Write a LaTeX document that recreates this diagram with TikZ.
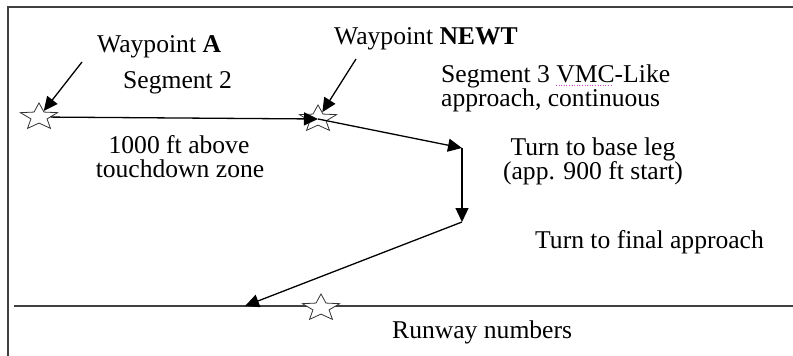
\documentclass[tikz,border=0pt]{standalone}
\usepackage{fontspec}
\setmainfont{Liberation Serif}
\usetikzlibrary{arrows.meta,shapes.geometric}
\definecolor{frameline}{RGB}{64,64,64}
\definecolor{spellmark}{RGB}{215,70,215}

\begin{document}
\begin{tikzpicture}[x=1pt,y=-1pt,
  every node/.style={font=\fontsize{25.6}{24}\selectfont,inner sep=0pt},
  wpt/.style={star,star points=5,star point ratio=2.3,minimum size=39pt,
    draw=black!80,fill=white,line width=0.8pt,xscale=1.0,yscale=0.72},
  route/.style={line width=1.3pt,-{Triangle[length=14pt,width=13pt]}},
  lbl/.style={anchor=base west}]
  \useasboundingbox (0,0) rectangle (793,356);
  % frame and runway
  \draw[frameline,line width=2pt] (8,356) -- (8,7) -- (793,7);
  \draw[frameline,line width=1.5pt] (14,306) -- (793,306);
  % waypoints
  \node[wpt] (wA) at (39,117) {};
  \node[wpt] (wN) at (318,119) {};
  \node[wpt] (wR) at (321,308) {};
  \coordinate (baseturn) at (462,148);
  \coordinate (finalturn) at (462,222);
  \coordinate (touch) at (245,306);
  \coordinate (ptrA) at (82,62);
  \coordinate (ptrN) at (356,59);
  % labels
  \node[lbl] (wpA) at (97,52) {Waypoint \textbf{A}};
  \node[lbl] (wpN) at (334,45) {Waypoint \textbf{NEWT}};
  \node[lbl] (seg2) at (123,88) {Segment 2};
  \node[lbl] (seg3) at (441,82) {Segment 3 VMC-Like};
  \node[lbl] (seg3b) at (441,106) {approach, continuous};
  \node[anchor=base] (alt) at (179,153) {1000 ft above};
  \node[anchor=base] (altb) at (180,177) {touchdown zone};
  \node[anchor=base] (baseleg) at (593,155) {Turn to base leg};
  \node[anchor=base] (baselegb) at (593,179) {(app. 900 ft start)};
  \node[lbl] (finalapp) at (535,248) {Turn to final approach};
  \node[lbl] (rwy) at (392,338) {Runway numbers};
  \draw[spellmark,dotted,line width=0.6pt] (556,85) -- (611,85);
  % flight path
  \draw[route] (ptrA) -- (wA);
  \draw[route] (ptrN) -- (wN);
  \draw[route] (wA) -- (wN.center);
  \draw[route] (wN.center) -- (baseturn);
  \draw[route] (baseturn) -- (finalturn);
  \draw[route] (finalturn) -- (touch);
\end{tikzpicture}
\end{document}
